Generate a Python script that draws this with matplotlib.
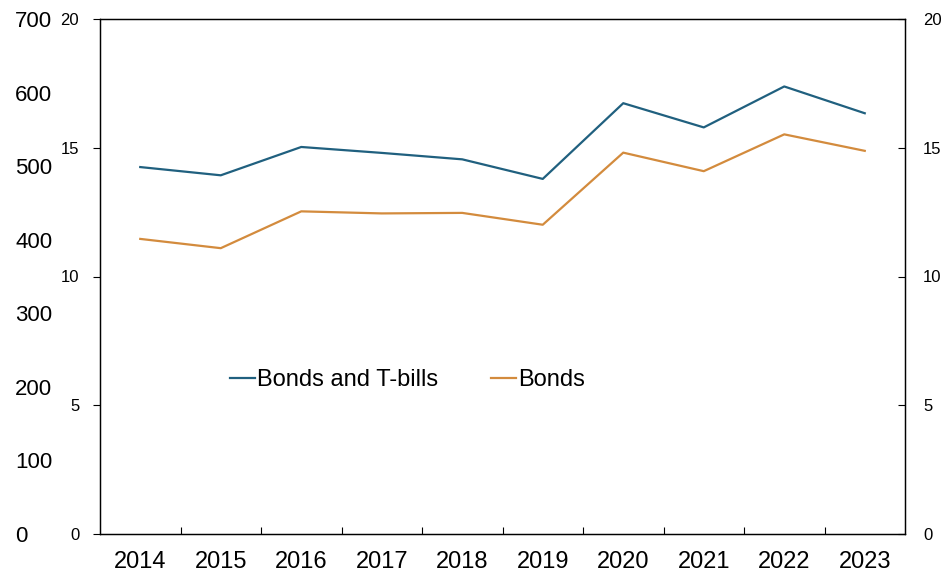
import matplotlib.pyplot as plt

plt.rcParams['font.family'] = ['Liberation Sans', 'DejaVu Sans']

years = ['2014', '2015', '2016', '2017', '2018', '2019', '2020', '2021', '2022', '2023']
bonds_tbills = [14.25, 13.93, 15.03, 14.80, 14.55, 13.79, 16.73, 15.79, 17.38, 16.34]
bonds = [11.46, 11.10, 12.53, 12.45, 12.47, 12.01, 14.81, 14.09, 15.52, 14.88]
left_outer_ticks = [0, 100, 200, 300, 400, 500, 600, 700]
inner_ticks = [0, 5, 10, 15, 20]

blue = '#20607f'
orange = '#d38b3d'

fig = plt.figure(figsize=(9.42, 5.73), dpi=100)
ax = fig.add_axes([100 / 942, 39 / 573, 805 / 942, 515 / 573])

x = list(range(len(years)))
ax.plot(x, bonds_tbills, color=blue, lw=1.6, label='Bonds and T-bills')
ax.plot(x, bonds, color=orange, lw=1.6, label='Bonds')

ax.set_xlim(-0.5, len(years) - 0.5)
ax.set_xticks(x)
ax.set_xticklabels(years)
ax.set_xticks([i + 0.5 for i in range(len(years) - 1)], minor=True)
ax.tick_params(axis='x', which='major', length=0, labelsize=17, pad=12)
ax.tick_params(axis='x', which='minor', direction='in', length=5, width=0.8)

ax.set_ylim(0, 20)
ax.set_yticks(inner_ticks)
ax.tick_params(axis='y', direction='out', length=5, width=0.8, labelsize=12, pad=10)

axr = ax.twinx()
axr.set_ylim(0, 20)
axr.set_yticks(inner_ticks)
axr.tick_params(axis='y', direction='in', length=5, width=0.8, labelsize=12, pad=13)

axo = ax.twinx()
axo.set_ylim(0, 700)
axo.set_yticks(left_outer_ticks)
axo.yaxis.tick_left()
for s in axo.spines.values():
    s.set_visible(False)
axo.tick_params(axis='y', length=0, labelsize=16, pad=61)
for lab in axo.get_yticklabels():
    lab.set_horizontalalignment('left')

for a in (ax, axr):
    for s in a.spines.values():
        s.set_linewidth(0.9)

ax.legend(ncol=2, frameon=False, fontsize=17, loc='center left',
          bbox_to_anchor=(0.1615, 0.299), borderaxespad=0, borderpad=0,
          handlelength=1.05, handletextpad=0.1, columnspacing=2.25)

fig.savefig('out.png', dpi=100)
